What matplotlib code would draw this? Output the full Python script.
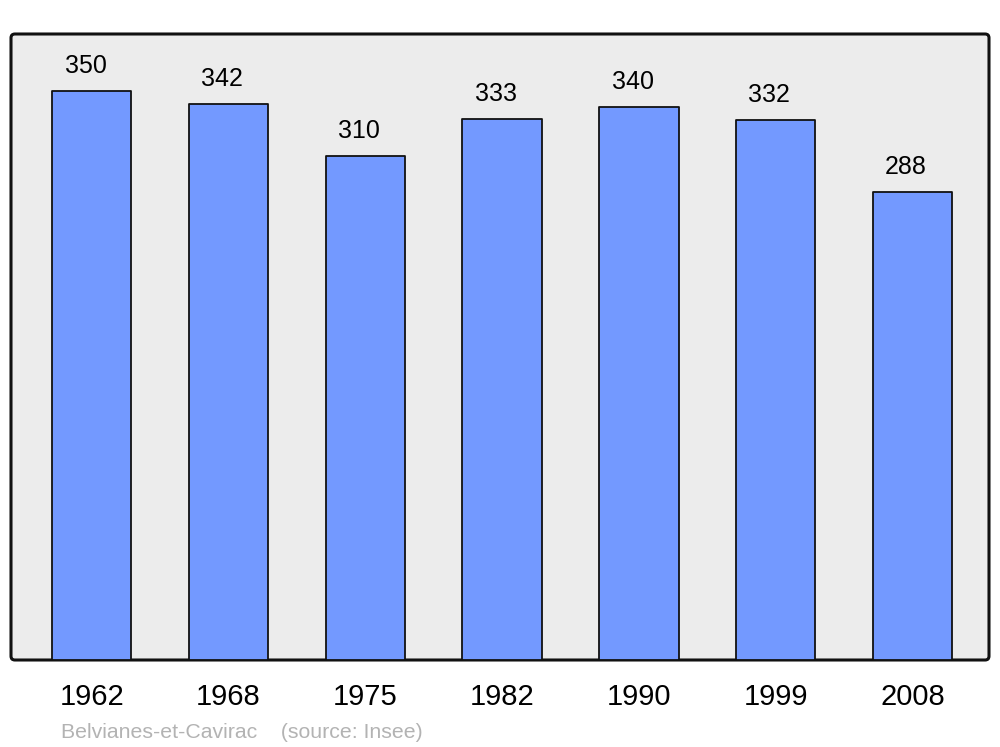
import matplotlib
matplotlib.use("Agg")
import matplotlib.pyplot as plt
from matplotlib.patches import FancyBboxPatch

years = ["1962", "1968", "1975", "1982", "1990", "1999", "2008"]
population = [350, 342, 310, 333, 340, 332, 288]
source_text = "Belvianes-et-Cavirac    (source: Insee)"

plt.rcParams['font.family'] = ['Liberation Sans', 'DejaVu Sans']

fig = plt.figure(figsize=(10, 7.47), dpi=100)
ax = fig.add_axes([0.011, 87 / 747, 0.978, 626 / 747])
ax.set_facecolor('none')
for s in ax.spines.values():
    s.set_visible(False)

# rounded background frame
aspect = 978 / 626
bg = FancyBboxPatch((0, 0), 1, 1, boxstyle="round,pad=0,rounding_size=0.004",
                    mutation_aspect=aspect, transform=ax.transAxes,
                    facecolor='#ececec', edgecolor='#111111', linewidth=2.2,
                    zorder=0, clip_on=False)
ax.add_patch(bg)

x = list(range(len(years)))
bars = ax.bar(x, population, width=0.58, color='#7399ff', edgecolor='#111111',
              linewidth=1.3, zorder=2)
for b in bars:
    b.set_joinstyle('round')

for xi, v in zip(x, population):
    ax.annotate(str(v), (xi, v), xytext=(-4.5, 18), textcoords='offset points',
                ha='center', va='center', fontsize=18, color='black')

ax.set_xlim(-0.59, 6.56)
ax.set_ylim(0, 385)
ax.set_yticks([])
ax.set_xticks(x)
ax.set_xticklabels(years, fontsize=21)
ax.tick_params(axis='x', length=0, pad=16.5)

fig.text(0.061, 1 - 732 / 747, source_text, ha='left', va='center',
         fontsize=15.3, color='#b3b3b3')

fig.savefig("out.png", dpi=100)
